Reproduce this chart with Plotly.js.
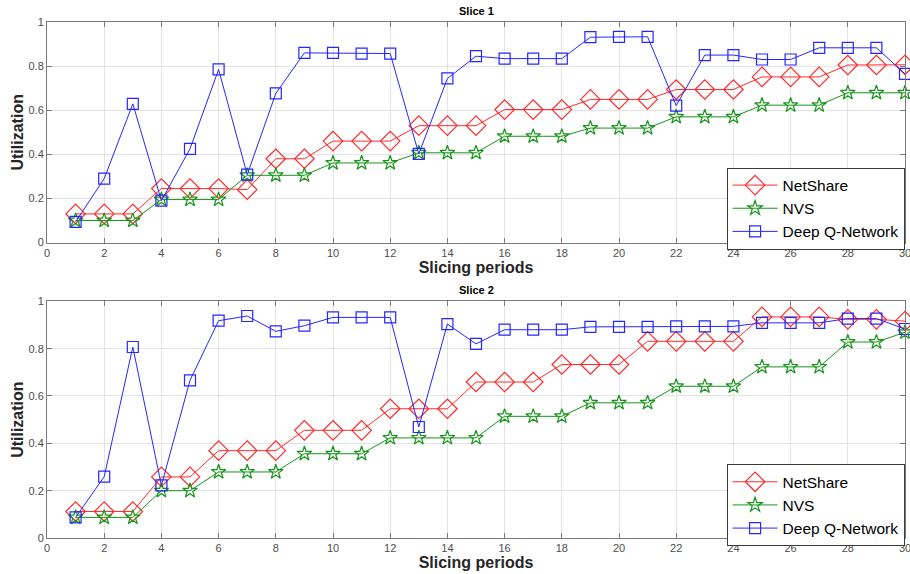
<!DOCTYPE html>
<html>
<head>
<meta charset="utf-8">
<script src="https://cdn.plot.ly/plotly-3.0.1.min.js"></script>
<style>html,body{margin:0;padding:0;background:#fff;}#chart{width:910px;height:574px;}</style>
</head>
<body>
<div id="chart"></div>
<script>
const periods = [1,2,3,4,5,6,7,8,9,10,11,12,13,14,15,16,17,18,19,20,21,22,23,24,25,26,27,28,29,30];
const seriesNames = ['NetShare', 'NVS', 'Deep Q-Network'];

const slice1NetShare = [0.13,0.13,0.13,0.245,0.245,0.245,0.24,0.38,0.38,0.46,0.46,0.46,0.53,0.53,0.53,0.603,0.603,0.603,0.649,0.649,0.649,0.694,0.694,0.694,0.751,0.751,0.751,0.805,0.805,0.806];
const slice1NVS = [0.1,0.1,0.1,0.195,0.195,0.195,0.305,0.305,0.305,0.361,0.361,0.361,0.407,0.407,0.407,0.482,0.482,0.482,0.519,0.519,0.519,0.57,0.57,0.57,0.623,0.623,0.623,0.679,0.679,0.679];
const slice1DQN = [0.094,0.29,0.629,0.19,0.425,0.785,0.308,0.676,0.86,0.86,0.857,0.857,0.402,0.744,0.845,0.834,0.834,0.834,0.931,0.933,0.933,0.621,0.85,0.85,0.83,0.83,0.883,0.883,0.883,0.765];

const slice2NetShare = [0.112,0.112,0.112,0.258,0.258,0.369,0.369,0.369,0.455,0.455,0.455,0.546,0.546,0.546,0.659,0.659,0.659,0.733,0.733,0.733,0.831,0.831,0.831,0.831,0.934,0.934,0.934,0.924,0.924,0.916];
const slice2NVS = [0.087,0.087,0.087,0.2,0.2,0.279,0.279,0.279,0.356,0.356,0.356,0.423,0.423,0.423,0.423,0.514,0.514,0.514,0.571,0.571,0.571,0.641,0.641,0.641,0.723,0.723,0.723,0.828,0.828,0.869];
const slice2DQN = [0.087,0.259,0.807,0.222,0.666,0.918,0.938,0.873,0.897,0.932,0.932,0.932,0.469,0.904,0.82,0.88,0.88,0.88,0.892,0.892,0.892,0.894,0.894,0.894,0.909,0.909,0.909,0.927,0.927,0.883];

const xTickVals = [0,2,4,6,8,10,12,14,16,18,20,22,24,26,28,30];
const yTickVals = [0,0.2,0.4,0.6,0.8,1];
const yTickText = ['0','0.2','0.4','0.6','0.8','1'];

const red = '#ff2a2a', green = '#17951a', blue = '#2626ff';
const styles = [
  {color: red, symbol: 'diamond-open', size: 15},
  {color: green, symbol: 'star-open', size: 11},
  {color: blue, symbol: 'square-open', size: 11}
];

function mk(y, i, xa, ya, leg) {
  return {
    x: periods, y: y, type: 'scatter', mode: 'lines+markers',
    name: seriesNames[i], xaxis: xa, yaxis: ya, legend: leg, cliponaxis: false,
    line: {color: styles[i].color, width: 1},
    marker: {symbol: styles[i].symbol, size: styles[i].size, color: styles[i].color, line: {width: 1.2, color: styles[i].color}}
  };
}

const data = [
  mk(slice1NetShare, 0, 'x', 'y', 'legend'),
  mk(slice1NVS, 1, 'x', 'y', 'legend'),
  mk(slice1DQN, 2, 'x', 'y', 'legend'),
  mk(slice2NetShare, 0, 'x2', 'y2', 'legend2'),
  mk(slice2NVS, 1, 'x2', 'y2', 'legend2'),
  mk(slice2DQN, 2, 'x2', 'y2', 'legend2')
];

const font = 'Liberation Sans, Arial, sans-serif';
function xax(anchor) {
  return {
    anchor: anchor, range: [0, 30], tickvals: xTickVals, showgrid: true, gridcolor: '#e3e3e3',
    zeroline: false, showline: true, linecolor: '#7a7a7a', linewidth: 1, mirror: 'ticks',
    ticks: 'inside', ticklen: 5, tickcolor: '#7a7a7a', ticklabeloverflow: 'allow',
    tickfont: {family: font, size: 11, color: '#4d4d4d'},
    title: {text: '<b>Slicing periods</b>', font: {family: font, size: 16, color: '#262626'}, standoff: 2}
  };
}
function yax(anchor, domain) {
  return {
    anchor: anchor, domain: domain, range: [0, 1], tickvals: yTickVals, ticktext: yTickText,
    showgrid: true, gridcolor: '#e3e3e3', zeroline: false, showline: true, linecolor: '#7a7a7a',
    linewidth: 1, mirror: 'ticks', ticks: 'inside', ticklen: 5, tickcolor: '#7a7a7a', ticklabeloverflow: 'allow',
    tickfont: {family: font, size: 11, color: '#4d4d4d'},
    title: {text: '<b>Utilization</b>', font: {family: font, size: 16, color: '#262626'}, standoff: 0}
  };
}
const legendStyle = {
  bgcolor: '#ffffff', bordercolor: '#3a3a3a', borderwidth: 1,
  font: {family: font, size: 15.5, color: '#000'}, xanchor: 'right', yanchor: 'top',
  tracegroupgap: 0, itemwidth: 45
};

const layout = {
  width: 910, height: 574,
  margin: {l: 47, r: 5, t: 22, b: 36},
  paper_bgcolor: '#ffffff', plot_bgcolor: '#ffffff',
  showlegend: true,
  xaxis: xax('y'),
  yaxis: yax('x', [0.5725, 1]),
  xaxis2: xax('y2'),
  yaxis2: yax('x2', [0, 0.4587]),
  legend: Object.assign({}, legendStyle, {x: 0.9995, y: 0.718}),
  legend2: Object.assign({}, legendStyle, {x: 0.9995, y: 0.143}),
  annotations: [
    {text: '<b>Slice 1</b>', xref: 'paper', yref: 'paper', x: 0.5, y: 1, yanchor: 'bottom', yshift: 3, showarrow: false, font: {family: font, size: 11, color: '#000'}},
    {text: '<b>Slice 2</b>', xref: 'paper', yref: 'paper', x: 0.5, y: 0.4587, yanchor: 'bottom', yshift: 3, showarrow: false, font: {family: font, size: 11, color: '#000'}}
  ]
};

Plotly.newPlot('chart', data, layout, {displayModeBar: false, staticPlot: true});
</script>
</body>
</html>
